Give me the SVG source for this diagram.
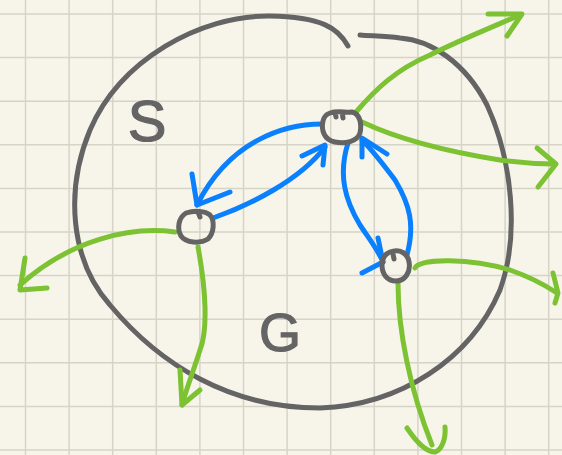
<svg xmlns="http://www.w3.org/2000/svg" width="562" height="455" viewBox="0 0 562 455">
<style>
.grid{stroke:#d6d4c7;stroke-width:1.5;fill:none}
.ink{stroke:#646464;stroke-width:5;fill:none;stroke-linecap:round;stroke-linejoin:round}
.blue{stroke:#0a80ff;stroke-width:5;fill:none;stroke-linecap:round;stroke-linejoin:round}
.green{stroke:#7cc232;stroke-width:5;fill:none;stroke-linecap:round;stroke-linejoin:round}
.lbl{font-family:"Liberation Sans",Arial,sans-serif;fill:#646464;stroke:#646464;stroke-width:1.2;text-anchor:middle}
</style>
<rect width="562" height="455" fill="#f7f5ea"/>
<g id="grid" class="grid">
<path d="M25.5,0V455M69.1,0V455M112.7,0V455M156.3,0V455M199.9,0V455M243.5,0V455M287.1,0V455M330.7,0V455M374.3,0V455M417.9,0V455M461.5,0V455M505.1,0V455M548.7,0V455"/>
<path d="M0,14H562M0,57.6H562M0,101.2H562M0,144.8H562M0,188.4H562M0,232H562M0,275.6H562M0,319.2H562M0,362.8H562M0,406.4H562M0,450H562"/>
</g>
<g id="region-S">
<path class="ink" d="M348,46 C338,28 322,17 270,16 C200,15 120,60 90,130 C65,190 70,260 110,305 C160,365 230,408 320,408 C400,405 470,360 500,290 C520,235 512,160 487,105 C465,62 430,40 400,38 C385,36 372,36 360,35"/>
<text class="lbl" x="147" y="141" font-size="58">S</text>
<text class="lbl" x="280" y="351" font-size="54">G</text>
</g>
<g id="connectors">
<path class="blue" d="M322,124 C285,124 230,140 197,205"/>
<path class="blue" d="M192,174 L197,205 L230,192"/>
<path class="blue" d="M213,218 C250,205 300,180 325,147"/>
<path class="blue" d="M302,156 L325,145 L323,165"/>
<path class="blue" d="M348,143 C338,175 345,200 360,225 C370,240 378,250 383,262"/>
<path class="blue" d="M378,238 L383,262 L362,273"/>
<path class="blue" d="M407,255 C415,225 410,205 395,180 C380,160 372,150 362,140"/>
<path class="blue" d="M362,157 L362,138 L387,154"/>
<path class="green" d="M356,112 C375,90 395,70 430,55 C460,40 490,28 520,15"/>
<path class="green" d="M488,14 L522,14 L507,36"/>
<path class="green" d="M362,122 C400,140 450,152 500,160 C520,163 540,164 555,164"/>
<path class="green" d="M537,148 L556,164 L538,187"/>
<path class="green" d="M175,232 C130,226 70,240 20,285"/>
<path class="green" d="M25,258 L20,290 L47,288"/>
<path class="green" d="M198,247 C206,290 208,330 200,350 C193,372 186,390 182,405"/>
<path class="green" d="M180,370 L182,405 L200,390"/>
<path class="green" d="M415,268 C420,258 470,258 510,270 C530,277 545,285 557,293"/>
<path class="green" d="M553,273 L558,293 L555,303"/>
<path class="green" d="M398,283 C398,330 410,390 432,445"/>
<path class="green" d="M407,428 C415,440 425,452 435,452 C442,450 446,438 445,427"/>
</g>
<g id="node-a"><path class="ink" d="M330,113 C338,110 346,113 352,112 C360,114 362,124 360,133 C357,142 345,144 335,142 C324,140 321,130 323,121 C324,116 327,114 330,113 Z M335,112 L336,117 M342,112 L343,118"/></g>
<g id="node-b"><path class="ink" d="M186,213 C195,210 205,211 210,215 C215,221 214,233 208,239 C200,244 186,243 181,236 C177,229 178,218 186,213 Z M198,212 L200,217"/></g>
<g id="node-c"><path class="ink" d="M390,252 C400,248 408,254 409,262 C411,272 405,281 396,281 C387,281 382,274 382,265 C382,258 385,254 390,252 Z M393,254 L394,259"/></g>
</svg>
